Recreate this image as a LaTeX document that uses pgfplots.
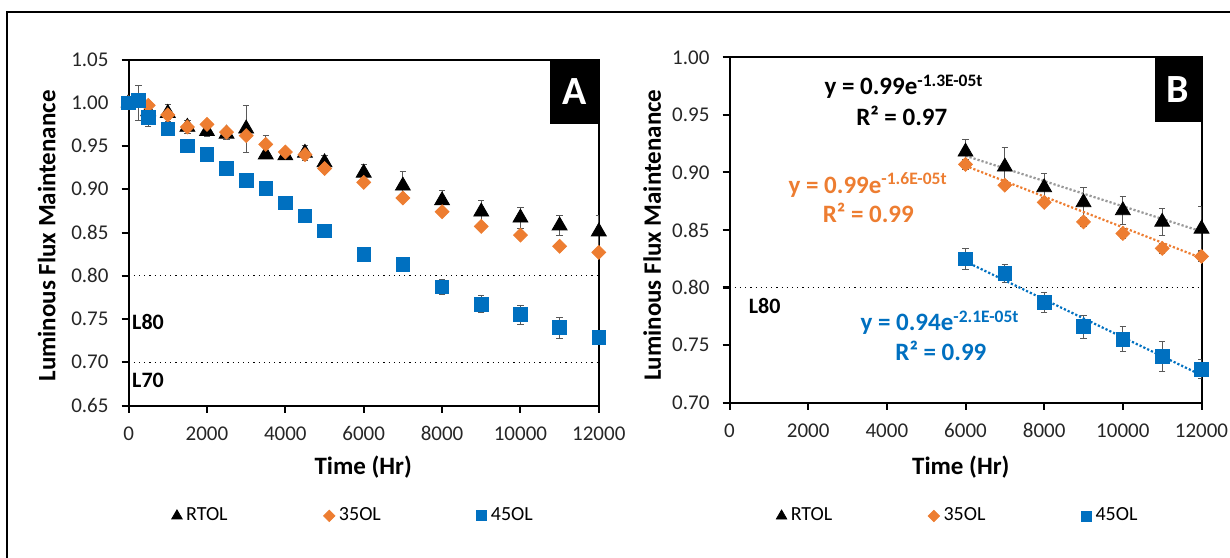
\documentclass[border=0pt]{standalone}
\usepackage{fontspec}
\setmainfont{Carlito}
\usepackage{pgfplots}
\pgfplotsset{compat=1.18}
\usepackage{pgfplotstable}
\definecolor{cor}{HTML}{ED7D31}
\definecolor{cbl}{HTML}{0070C0}

\pgfplotstableread{
t v e
0 1.000 0.003
250 1.000 0.020
500 0.990 0.005
1000 0.988 0.010
1500 0.972 0.008
2000 0.967 0.006
2500 0.964 0.006
3000 0.970 0.027
3500 0.940 0.004
4000 0.939 0.004
4500 0.942 0.009
5000 0.931 0.008
6000 0.919 0.010
7000 0.904 0.017
8000 0.887 0.011
9000 0.874 0.013
10000 0.867 0.012
11000 0.858 0.012
12000 0.851 0.019
}\rtol
\pgfplotstableread{
t v e
0 1.000 0.003
250 1.003 0.005
500 0.997 0.004
1000 0.986 0.005
1500 0.972 0.004
2000 0.975 0.004
2500 0.966 0.004
3000 0.962 0.005
3500 0.952 0.010
4000 0.943 0.004
4500 0.940 0.004
5000 0.924 0.004
6000 0.908 0.003
7000 0.890 0.003
8000 0.874 0.003
9000 0.857 0.004
10000 0.847 0.004
11000 0.834 0.003
12000 0.827 0.003
}\ola
\pgfplotstableread{
t v e
0 1.000 0.003
250 1.003 0.003
500 0.983 0.010
1000 0.970 0.003
1500 0.950 0.003
2000 0.940 0.003
2500 0.924 0.003
3000 0.910 0.003
3500 0.901 0.003
4000 0.884 0.003
4500 0.869 0.003
5000 0.852 0.006
6000 0.825 0.008
7000 0.813 0.008
8000 0.787 0.009
9000 0.767 0.010
10000 0.755 0.011
11000 0.740 0.012
12000 0.729 0.008
}\olb
\pgfplotstableread{
t v e
6000 0.918 0.011
7000 0.905 0.017
8000 0.887 0.012
9000 0.874 0.013
10000 0.867 0.012
11000 0.857 0.012
12000 0.851 0.019
}\rtolB
\pgfplotstableread{
t v e
6000 0.907 0.004
7000 0.889 0.004
8000 0.874 0.004
9000 0.857 0.004
10000 0.847 0.004
11000 0.834 0.004
12000 0.827 0.004
}\olaB
\pgfplotstableread{
t v e
6000 0.825 0.009
7000 0.812 0.008
8000 0.787 0.009
9000 0.766 0.010
10000 0.755 0.011
11000 0.740 0.013
12000 0.729 0.008
}\olbB

\pgfplotsset{
  mylegimg/.style={legend image code/.code={\draw[##1] plot coordinates {(0.12cm,0cm)};}},
  myax/.style={
    scale only axis,
    axis line style={line width=1pt, black},
    every tick/.style={line width=1pt, black},
    tick align=outside, major tick length=3.5pt,
    xtick pos=bottom, ytick pos=left,
    xmin=0, xmax=12000,
    xtick={0,2000,4000,6000,8000,10000,12000},
    scaled x ticks=false,
    xticklabel style={/pgf/number format/set thousands separator={}, yshift=-3.5pt},
    yticklabel style={/pgf/number format/fixed, /pgf/number format/fixed zerofill, /pgf/number format/precision=2, xshift=-3pt},
    /pgf/number format/assume math mode=true,
    tick label style={font=\fontsize{10.5}{12}\selectfont, text=black!85},
    label style={font=\fontsize{12.5}{15}\selectfont\bfseries},
    xlabel={Time (Hr)},
    ylabel={Luminous Flux Maintenance},
    legend columns=3,
    legend cell align=left,
    legend style={draw=none, fill=none, font=\fontsize{10}{12}\selectfont,
      /tikz/every even column/.append style={column sep=46pt}},
    eb/.style={error bars/.cd, y dir=both, y explicit,
      error bar style={line width=0.5pt, black!65},
      error mark options={rotate=90, mark size=1.6pt, line width=0.5pt, black!65}},
  }
}

\begin{document}
\begin{tikzpicture}
\draw[line width=1pt] (3.5pt,-40pt) -- (3.5pt,272.5pt) -- (660pt,272.5pt);

% Panel A
\begin{axis}[myax, at={(64.3pt,75.75pt)}, anchor=south west,
  width=235.1pt, height=173pt,
  ymin=0.65, ymax=1.05,
  ytick={0.65,0.70,0.75,0.80,0.85,0.90,0.95,1.00,1.05},
  xlabel style={at={(axis description cs:0.499,-0.178)}, anchor=center},
  ylabel style={at={(axis description cs:-0.174,0.49)}, anchor=center},
  legend style={at={(axis description cs:0.48,-0.319)}, anchor=center},
]
\addplot[black, dotted, line width=0.6pt, forget plot] coordinates {(0,0.80) (12000,0.80)};
\addplot[black, dotted, line width=0.6pt, forget plot] coordinates {(0,0.70) (12000,0.70)};
\addplot[only marks, black, mark=triangle*, mark size=4.3pt, forget plot, eb] table[x=t,y=v,y error=e] {\rtol};
\addplot[only marks, cor, mark=square*, mark size=2.45pt, mark options={rotate=45}, forget plot, eb] table[x=t,y=v,y error=e] {\ola};
\addplot[only marks, cbl, mark=square*, mark size=3.4pt, forget plot, eb] table[x=t,y=v,y error=e] {\olb};
\addlegendimage{only marks, black, mark=triangle*, mark size=3pt, mylegimg}
\addlegendentry{RTOL}
\addlegendimage{only marks, cor, mark=square*, mark size=2pt, mark options={rotate=45}, mylegimg}
\addlegendentry{35OL}
\addlegendimage{only marks, cbl, mark=square*, mark size=2.5pt, mylegimg}
\addlegendentry{45OL}
\node[font=\fontsize{11}{13}\selectfont\bfseries, anchor=base] at (axis cs:495,0.7384) {L80};
\node[font=\fontsize{11}{13}\selectfont\bfseries, anchor=base] at (axis cs:495,0.6705) {L70};
\node[fill=black, text=white, font=\fontsize{20}{22}\selectfont\bfseries, minimum width=24pt, minimum height=32pt, inner sep=0pt, anchor=north east] at (rel axis cs:1,1) {A};
\end{axis}

% Panel B
\begin{axis}[myax, at={(364.75pt,77.25pt)}, anchor=south west,
  width=236pt, height=172.5pt,
  ymin=0.70, ymax=1.00,
  ytick={0.70,0.75,0.80,0.85,0.90,0.95,1.00},
  xlabel style={at={(axis description cs:0.49,-0.187)}, anchor=center},
  ylabel style={at={(axis description cs:-0.164,0.485)}, anchor=center},
  legend style={at={(axis description cs:0.486,-0.329)}, anchor=center},
]
\addplot[black, dotted, line width=0.6pt, forget plot] coordinates {(0,0.80) (12000,0.80)};
\addplot[only marks, black, mark=triangle*, mark size=4.3pt, forget plot, eb] table[x=t,y=v,y error=e] {\rtolB};
\addplot[only marks, cor, mark=square*, mark size=2.45pt, mark options={rotate=45}, forget plot, eb] table[x=t,y=v,y error=e] {\olaB};
\addplot[only marks, cbl, mark=square*, mark size=3.4pt, forget plot, eb] table[x=t,y=v,y error=e] {\olbB};
\addplot[black!40, densely dotted, line width=1.1pt, forget plot] coordinates {(6000,0.9145) (12000,0.8487)};
\addplot[cor, densely dotted, line width=1.1pt, forget plot] coordinates {(6000,0.9058) (12000,0.8256)};
\addplot[cbl, densely dotted, line width=1.1pt, forget plot] coordinates {(6000,0.8226) (12000,0.7237)};
\addlegendimage{only marks, black, mark=triangle*, mark size=3pt, mylegimg}
\addlegendentry{RTOL}
\addlegendimage{only marks, cor, mark=square*, mark size=2pt, mark options={rotate=45}, mylegimg}
\addlegendentry{35OL}
\addlegendimage{only marks, cbl, mark=square*, mark size=2.5pt, mylegimg}
\addlegendentry{45OL}
\node[font=\fontsize{11}{13}\selectfont\bfseries, anchor=base] at (axis cs:895,0.7776) {L80};
\node[font=\fontsize{12.5}{15}\selectfont\bfseries, anchor=base, text=black] at (axis cs:4437,0.9674) {y = 0.99e\textsuperscript{-1.3E-05t}};
\node[font=\fontsize{12.5}{15}\selectfont\bfseries, anchor=base, text=black] at (axis cs:4380,0.9413) {R² = 0.97};
\node[font=\fontsize{12.5}{15}\selectfont\bfseries, anchor=base, text=cor] at (axis cs:3524,0.8819) {y = 0.99e\textsuperscript{-1.6E-05t}};
\node[font=\fontsize{12.5}{15}\selectfont\bfseries, anchor=base, text=cor] at (axis cs:3529,0.8564) {R² = 0.99};
\node[font=\fontsize{12.5}{15}\selectfont\bfseries, anchor=base, text=cbl] at (axis cs:5352,0.7622) {y = 0.94e\textsuperscript{-2.1E-05t}};
\node[font=\fontsize{12.5}{15}\selectfont\bfseries, anchor=base, text=cbl] at (axis cs:5375,0.7363) {R² = 0.99};
\node[fill=black, text=white, font=\fontsize{20}{22}\selectfont\bfseries, minimum width=23pt, minimum height=32pt, inner sep=0pt, anchor=north east] at (rel axis cs:1,1) {B};
\end{axis}

\pgfresetboundingbox
\useasboundingbox (0pt,0pt) rectangle (615pt,278.5pt);
\end{tikzpicture}
\end{document}
